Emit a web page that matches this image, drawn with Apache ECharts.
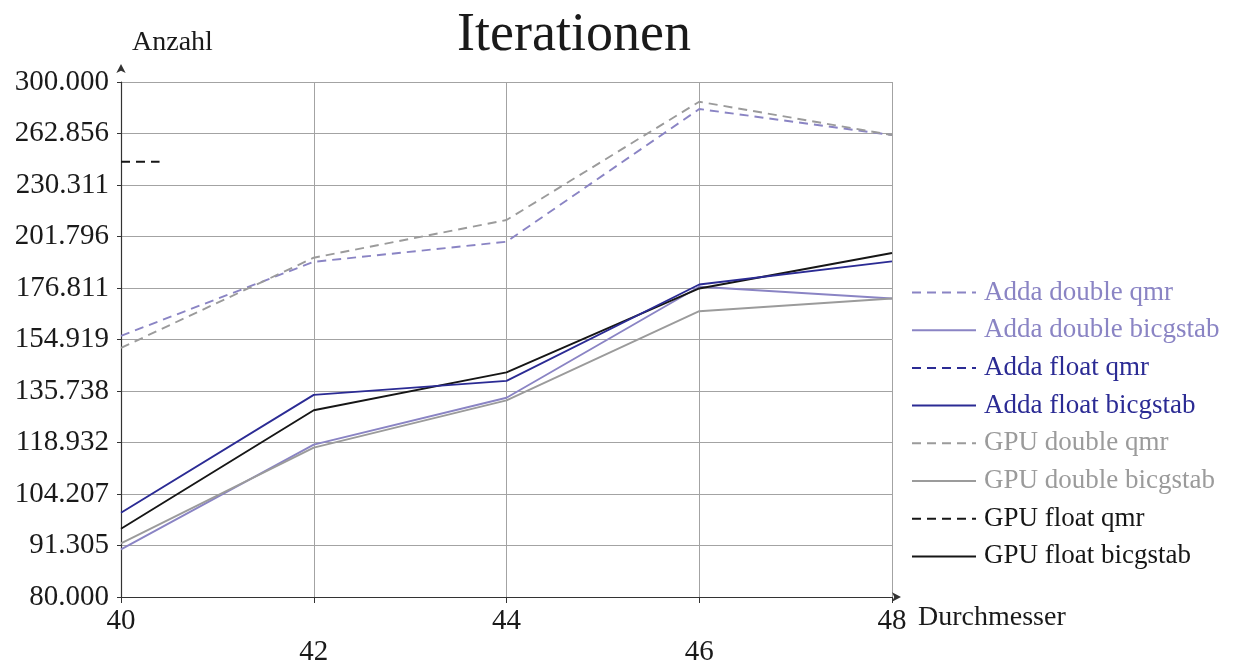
<!DOCTYPE html>
<html>
<head>
<meta charset="utf-8">
<script src="https://cdn.jsdelivr.net/npm/echarts@6/dist/echarts.min.js"></script>
<style>
  html, body { margin: 0; padding: 0; background: #fff; }
  #chart { width: 1251px; height: 662px; }
</style>
</head>
<body>
<div id="chart"></div>
<script>
  // Durchmesser (x) und Anzahl Iterationen (y)
  var durchmesser = [40, 42, 44, 46, 48];
  var yTicks = [80000, 91305, 104207, 118932, 135738, 154919, 176811, 201796, 230311, 262856, 300000];

  var addaDoubleQmr = [156400, 189100, 199100, 279900, 261800];
  var addaDoubleBicg = [90400, 118300, 133400, 177400, 172100];
  var addaFloatQmr = [];
  var addaFloatBicg = [99300, 134400, 139300, 178400, 189300];
  var gpuDoubleQmr = [151600, 191100, 210500, 285200, 261800];
  var gpuDoubleBicg = [91800, 117400, 132500, 166600, 172100];
  var gpuFloatQmrX = [40, 40.4];
  var gpuFloatQmr = [244500, 244500];
  var gpuFloatBicg = [95300, 129200, 142400, 176600, 193400];

  var lila = '#8a84c4', blau = '#2b2b94', grau = '#9b9b9b', schwarz = '#161616';
  var font = 'Liberation Serif';

  function pts(xs, ys) {
    return ys.map(function (v, i) { return [xs[i], v]; });
  }

  function linie(name, data, color, dashed) {
    return {
      name: name,
      type: 'line',
      data: data,
      symbol: 'none',
      silent: true,
      lineStyle: { color: color, width: 1.9, type: dashed ? [9, 6] : 'solid' },
      itemStyle: { color: color }
    };
  }

  var chart = echarts.init(document.getElementById('chart'));

  var names = [
    ['Adda double qmr', lila], ['Adda double bicgstab', lila],
    ['Adda float qmr', blau], ['Adda float bicgstab', blau],
    ['GPU double qmr', grau], ['GPU double bicgstab', grau],
    ['GPU float qmr', schwarz], ['GPU float bicgstab', schwarz]
  ];

  chart.setOption({
    animation: false,
    title: {
      text: 'Iterationen',
      left: 452,
      top: 4,
      textStyle: { fontFamily: font, fontSize: 54, fontWeight: 'normal', color: '#1a1a1a' }
    },
    legend: {
      orient: 'vertical',
      left: 906,
      top: 274,
      itemWidth: 64,
      itemHeight: 14,
      itemGap: 10.7,
      itemStyle: { opacity: 0 },
      data: names.map(function (n) {
        return { name: n[0], textStyle: { color: n[1] } };
      }),
      textStyle: { fontFamily: font, fontSize: 27, lineHeight: 26, padding: [0, 0, 0, 3] }
    },
    grid: { left: 121, right: 359, top: 82, bottom: 65, outerBoundsMode: 'none', containLabel: false },
    xAxis: {
      type: 'value',
      min: 40,
      max: 48,
      interval: 2,
      name: 'Durchmesser',
      nameLocation: 'end',
      nameGap: 26,
      nameTextStyle: { fontFamily: font, fontSize: 28, color: '#1a1a1a', verticalAlign: 'top', padding: [7, 0, 0, 0] },
      axisLine: { lineStyle: { color: '#333', width: 1.2 }, symbol: ['none', 'arrow'], symbolSize: [7, 9], symbolOffset: [0, 9] },
      axisTick: { show: true, length: 6, lineStyle: { color: '#333' } },
      axisLabel: {
        fontFamily: font, fontSize: 29, color: '#1a1a1a', margin: 9, lineHeight: 31,
        formatter: function (v) { return (v % 4 === 2) ? '\n' + v : '' + v; }
      },
      splitLine: { show: true, lineStyle: { color: '#a3a3a3', width: 1 } }
    },
    yAxis: {
      type: 'log',
      min: 80000,
      max: 300000,
      name: 'Anzahl',
      nameLocation: 'end',
      nameGap: 25,
      nameTextStyle: { fontFamily: font, fontSize: 28, color: '#1a1a1a', align: 'left', padding: [0, 0, 0, 11] },
      axisLine: { show: true, lineStyle: { color: '#333', width: 1.2 }, symbol: ['none', 'arrow'], symbolSize: [7, 9], symbolOffset: [0, 18] },
      axisTick: { show: true, length: 4, customValues: yTicks, lineStyle: { color: '#333' } },
      axisLabel: {
        fontFamily: font, fontSize: 29, color: '#1a1a1a', margin: 12,
        customValues: yTicks,
        formatter: function (v) { return (Math.round(v) / 1000).toFixed(3); }
      },
      splitLine: { show: true, lineStyle: { color: '#a3a3a3', width: 1 } }
    },
    series: [
      linie('Adda double qmr', pts(durchmesser, addaDoubleQmr), lila, true),
      linie('Adda double bicgstab', pts(durchmesser, addaDoubleBicg), lila, false),
      linie('Adda float qmr', pts(durchmesser, addaFloatQmr), blau, true),
      linie('GPU double qmr', pts(durchmesser, gpuDoubleQmr), grau, true),
      linie('GPU double bicgstab', pts(durchmesser, gpuDoubleBicg), grau, false),
      linie('GPU float qmr', pts(gpuFloatQmrX, gpuFloatQmr), schwarz, true),
      linie('GPU float bicgstab', pts(durchmesser, gpuFloatBicg), schwarz, false),
      linie('Adda float bicgstab', pts(durchmesser, addaFloatBicg), blau, false)
    ]
  });
</script>
</body>
</html>
